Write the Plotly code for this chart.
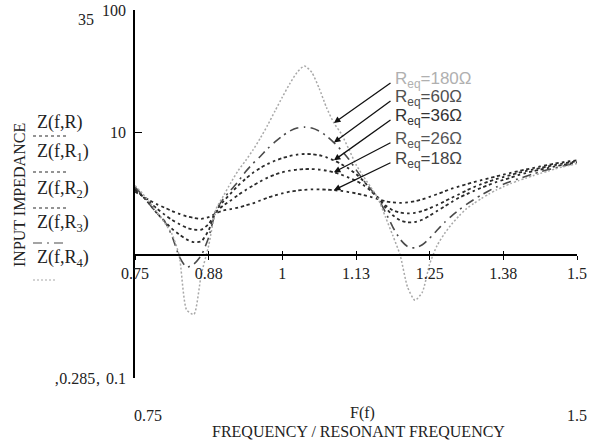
import math
import plotly.graph_objects as go

# ---------------- data ----------------
freq = [0.75, 0.7625, 0.775, 0.7875, 0.8, 0.8125, 0.825, 0.8375, 0.85, 0.8625,
        0.875, 0.8875, 0.9, 0.9125, 0.925, 0.9375, 0.95, 0.9625, 0.975, 0.9875,
        1.0, 1.0125, 1.025, 1.0375, 1.05, 1.0625, 1.075, 1.0875, 1.1, 1.1125,
        1.125, 1.1375, 1.15, 1.1625, 1.175, 1.1875, 1.2, 1.2125, 1.225, 1.2375,
        1.25, 1.2625, 1.275, 1.2875, 1.3, 1.3125, 1.325, 1.3375, 1.35, 1.3625,
        1.375, 1.3875, 1.4, 1.4125, 1.425, 1.4375, 1.45, 1.4625, 1.475, 1.4875, 1.5]

z_r18 = [3.30, 3.05, 2.80, 2.60, 2.45, 2.30, 2.18, 2.08, 2.02, 1.98,
         2.05, 2.20, 2.32, 2.38, 2.45, 2.55, 2.65, 2.80, 2.95, 3.08,
         3.20, 3.30, 3.37, 3.42, 3.45, 3.45, 3.43, 3.40, 3.35, 3.28,
         3.20, 3.10, 3.00, 2.87, 2.76, 2.70, 2.68, 2.70, 2.76, 2.86,
         3.00, 3.15, 3.32, 3.50, 3.65, 3.80, 3.95, 4.10, 4.25, 4.40,
         4.55, 4.70, 4.85, 5.00, 5.15, 5.30, 5.45, 5.60, 5.73, 5.85, 5.95]

z_r26 = [3.40, 3.05, 2.70, 2.40, 2.15, 1.95, 1.80, 1.68, 1.62, 1.62,
         1.80, 2.25, 2.55, 2.80, 3.10, 3.40, 3.70, 4.00, 4.30, 4.55,
         4.75, 4.90, 5.00, 5.05, 5.05, 5.00, 4.90, 4.75, 4.55, 4.30,
         4.05, 3.75, 3.35, 2.95, 2.55, 2.33, 2.23, 2.20, 2.22, 2.30,
         2.42, 2.57, 2.75, 2.95, 3.15, 3.38, 3.60, 3.80, 4.00, 4.18,
         4.35, 4.52, 4.70, 4.85, 5.00, 5.15, 5.30, 5.45, 5.60, 5.72, 5.85]

z_r36 = [3.50, 3.05, 2.60, 2.20, 1.90, 1.65, 1.48, 1.35, 1.28, 1.30,
         1.60, 2.30, 2.75, 3.20, 3.70, 4.20, 4.70, 5.15, 5.55, 5.90,
         6.20, 6.45, 6.62, 6.70, 6.68, 6.55, 6.30, 5.95, 5.55, 5.10,
         4.60, 4.05, 3.45, 2.95, 2.45, 2.12, 1.93, 1.86, 1.87, 1.95,
         2.10, 2.30, 2.50, 2.72, 2.95, 3.15, 3.35, 3.55, 3.75, 3.95,
         4.12, 4.30, 4.50, 4.67, 4.85, 5.00, 5.15, 5.30, 5.45, 5.60, 5.75]

z_r60 = [3.60, 3.10, 2.60, 2.20, 1.90, 1.45, 0.98, 0.80, 0.85, 1.00,
         1.40, 2.32, 2.90, 3.40, 4.00, 4.80, 5.60, 6.40, 7.40, 8.40,
         9.40, 10.3, 10.9, 11.1, 10.9, 10.3, 9.40, 8.30, 7.20, 6.10,
         5.00, 4.10, 3.45, 2.90, 2.25, 1.70, 1.35, 1.18, 1.15, 1.22,
         1.38, 1.60, 1.85, 2.10, 2.35, 2.60, 2.85, 3.10, 3.35, 3.60,
         3.80, 4.00, 4.20, 4.40, 4.60, 4.80, 4.98, 5.15, 5.32, 5.50, 5.65]

z_r180 = [3.70, 3.20, 2.70, 2.25, 1.85, 1.50, 1.00, 0.36, 0.33, 0.70,
          1.20, 2.38, 3.05, 3.90, 4.90, 5.90, 7.20, 9.00, 11.5, 15.0,
          19.5, 25.0, 31.0, 35.0, 31.0, 23.0, 16.0, 12.0, 9.80, 7.40,
          5.50, 4.40, 3.60, 2.90, 2.05, 1.45, 1.00, 0.55, 0.43, 0.50,
          0.85, 1.20, 1.50, 1.80, 2.10, 2.40, 2.65, 2.90, 3.15, 3.40,
          3.62, 3.85, 4.05, 4.25, 4.45, 4.65, 4.85, 5.05, 5.25, 5.42, 5.60]

req_labels = ["180", "60", "36", "26", "18"]
x_tick_vals = [0.75, 0.875, 1.0, 1.125, 1.25, 1.375, 1.5]
x_tick_text = ["0.75", "0.88", "1", "1.13", "1.25", "1.38", "1.5"]
y_tick_vals = [0.1, 10, 100]
y_tick_text = ["0.1", "10", "100"]
legend_names = ["Z(f,R)", "Z(f,R<sub>1</sub>)", "Z(f,R<sub>2</sub>)",
                "Z(f,R<sub>3</sub>)", "Z(f,R<sub>4</sub>)"]

# ---------------- figure geometry ----------------
W, H = 603, 443
ML, MR, MT, MB = 135, 26, 10, 65
PW, PH = W - ML - MR, H - MT - MB
X0, X1 = 0.75, 1.5
LY0, LY1 = -1, 2


def px(xp):
    return (xp - ML) / PW


def py(yp):
    return (H - MB - yp) / PH


def dx(xp):
    return X0 + px(xp) * (X1 - X0)


def dly(yp):
    return LY0 + py(yp) * (LY1 - LY0)


SERIF = "Liberation Serif, Times New Roman, serif"
SANS = "Liberation Sans, Arial, sans-serif"

dark_dot = dict(color="#2a2a2a", width=1.8, dash="3px,3px")
styles = {
    "18": dark_dot,
    "26": dark_dot,
    "36": dark_dot,
    "60": dict(color="#4a4a4a", width=1.6, dash="9px,5px,2px,5px"),
    "180": dict(color="#a8a8a8", width=1.5, dash="2px,2px"),
}
series = {"18": z_r18, "26": z_r26, "36": z_r36, "60": z_r60, "180": z_r180}

fig = go.Figure()
for key in ["18", "26", "36", "60", "180"]:
    fig.add_trace(go.Scatter(x=freq, y=series[key], mode="lines",
                             line=dict(shape="spline", smoothing=0.6, **styles[key]),
                             showlegend=False, hoverinfo="skip"))

# invisible trace for overlay axis (crossing ticks)
fig.add_trace(go.Scatter(x=[freq[0], freq[-1]], y=[1, 1], xaxis="x2", mode="lines",
                         line=dict(width=0), showlegend=False, hoverinfo="skip"))

fig.update_layout(
    width=W, height=H,
    margin=dict(l=ML, r=MR, t=MT, b=MB, autoexpand=False),
    paper_bgcolor="white", plot_bgcolor="white",
    xaxis=dict(range=[X0, X1], anchor="free", position=1 / 3, automargin=False,
               tickvals=x_tick_vals, ticktext=x_tick_text,
               ticks="outside", ticklen=4, tickwidth=1.3, tickcolor="black",
               showline=True, linecolor="black", linewidth=1.5,
               showgrid=False, zeroline=False,
               tickfont=dict(family=SERIF, size=16, color="#222")),
    xaxis2=dict(range=[X0, X1], overlaying="x", anchor="free", position=1 / 3,
                automargin=False,
                tickvals=x_tick_vals, ticks="inside", ticklen=4, tickwidth=1.3,
                tickcolor="black", showticklabels=False, showline=False,
                showgrid=False, zeroline=False),
    yaxis=dict(type="log", range=[LY0, LY1], tickvals=y_tick_vals, ticktext=y_tick_text,
               automargin=False,
               ticks="inside", ticklen=7, tickwidth=1.3, tickcolor="black",
               ticklabelstandoff=4,
               showline=True, linecolor="black", linewidth=1.5,
               showgrid=False, zeroline=False,
               tickfont=dict(family=SERIF, size=16, color="#222")),
)

annotations = []

# R_eq labels with arrows
req_text_y = [80, 98, 117, 140, 160]
req_colors = ["#b0b0b0", "#505050", "#333333", "#555555", "#444444"]
arrow_idx = freq.index(1.0875)
for lab, ty, col in zip(req_labels, req_text_y, req_colors):
    annotations.append(dict(xref="paper", yref="paper", x=px(393), y=py(ty),
                            text=f"R<sub>eq</sub>={lab}Ω", showarrow=False,
                            xanchor="left", yanchor="middle",
                            font=dict(family=SANS, size=17, color=col)))
    tip_y = series[lab][arrow_idx]
    annotations.append(dict(x=freq[arrow_idx], y=math.log10(tip_y), xref="x", yref="y",
                            ax=dx(392), ay=dly(ty + 2), axref="x", ayref="y",
                            text="", showarrow=True, arrowhead=2, arrowsize=1,
                            arrowwidth=1.3, arrowcolor="#111"))

# left legend (Mathcad style)
leg_text_y = [122, 152, 189, 223, 258]
leg_line_y = [136, 172, 208, 243, 280]
for name, ty in zip(legend_names, leg_text_y):
    annotations.append(dict(xref="paper", yref="paper", x=px(35), y=py(ty),
                            text=name, showarrow=False, xanchor="left",
                            yanchor="middle",
                            font=dict(family=SERIF, size=18, color="#222")))

shapes = []
leg_styles = [dark_dot, dark_dot, dark_dot, styles["60"], styles["180"]]
leg_len = [67, 67, 67, 67, 57]
for ly, st, ln in zip(leg_line_y, leg_styles, leg_len):
    shapes.append(dict(type="line", xref="paper", yref="paper",
                       x0=px(33), x1=px(ln), y0=py(ly), y1=py(ly),
                       line=dict(color=st["color"], width=1.2, dash=st["dash"])))

# y-axis title
annotations.append(dict(xref="paper", yref="paper", x=px(19), y=py(195),
                        xanchor="center", yanchor="middle",
                        text="INPUT IMPEDANCE", textangle=-90, showarrow=False,
                        font=dict(family=SERIF, size=16, color="#222")))

# range markers and axis captions (Mathcad style)
extra = [
    ("35", 86, 19),
    ("\u201a0.285\u201a", 77, 378),
    ("0.75", 148, 415),
    ("1.5", 577, 415),
    ("F(f)", 362, 413),
    ("FREQUENCY / RESONANT FREQUENCY", 358, 431),
]
for txt, xx, yy in extra:
    annotations.append(dict(xref="paper", yref="paper", x=px(xx), y=py(yy),
                            text=txt, showarrow=False, xanchor="center",
                            yanchor="middle",
                            font=dict(family=SERIF, size=16, color="#222")))

fig.update_layout(annotations=annotations, shapes=shapes)
fig.write_html("out.html", config={"displayModeBar": False},
               post_script="document.body.style.margin='0px';")
